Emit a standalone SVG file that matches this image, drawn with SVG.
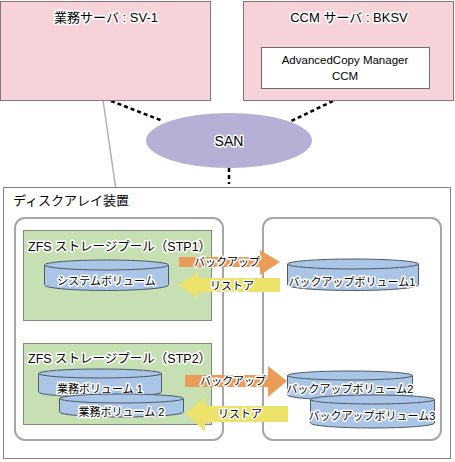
<svg xmlns="http://www.w3.org/2000/svg" width="455" height="462" viewBox="0 0 455 462">
<style>
.srv{fill:#f6d2d9;stroke:#8c7378;stroke-width:1}
.t{font-family:"Liberation Sans","Noto Sans CJK JP",sans-serif;fill:#000}
.h{paint-order:stroke;stroke:#fff;stroke-width:3;stroke-linejoin:round}
.pool{fill:#c6e0b4;stroke:#7f8c7a;stroke-width:1}
.rb{fill:#fff;stroke:#a6a6a6;stroke-width:2}
.cyl{fill:#abc5e6;stroke:#4d5a6c;stroke-width:1}
.dash{stroke:#000;stroke-width:2.5;stroke-dasharray:4,3;fill:none}
</style>
<g id="connectors">
<line x1="103" y1="100" x2="120" y2="218" stroke="#b0b0b0" stroke-width="1.5"/>
<line class="dash" x1="111" y1="101" x2="163" y2="121"/>
<line class="dash" x1="333" y1="101" x2="291" y2="121"/>
<line class="dash" x1="229" y1="168" x2="229" y2="184"/>
</g>
<g id="sv1">
<rect class="srv" x="0.5" y="1.5" width="210" height="99"/>
<text class="t h" x="106" y="22" font-size="13" text-anchor="middle">業務サーバ : SV-1</text>
</g>
<g id="bksv">
<rect class="srv" x="243.5" y="1.5" width="210" height="99"/>
<text class="t h" x="349" y="22" font-size="13" text-anchor="middle">CCM サーバ : BKSV</text>
<rect x="261.5" y="47.5" width="168" height="41" fill="#fff" stroke="#6e6e6e" stroke-width="1"/>
<text class="t" x="345" y="64" font-size="11.5" text-anchor="middle">AdvancedCopy Manager</text>
<text class="t" x="345" y="80" font-size="11.5" text-anchor="middle">CCM</text>
</g>
<g id="san">
<ellipse cx="229" cy="140.5" rx="83" ry="27.5" fill="#b6afd6"/>
<text class="t h" x="229" y="146" font-size="14" text-anchor="middle">SAN</text>
</g>
<g id="diskarray">
<rect x="3.5" y="187.5" width="447" height="271" fill="#fff" stroke="#808080" stroke-width="1"/>
<text class="t" x="13" y="205" font-size="13">ディスクアレイ装置</text>
</g>
<g id="leftbox">
<rect class="rb" x="15" y="218" width="208" height="222" rx="10"/>
</g>
<g id="rightbox">
<rect class="rb" x="263" y="218" width="178" height="222" rx="10"/>
</g>
<g id="stp1">
<rect class="pool" x="23.5" y="230.5" width="188" height="90"/>
<text class="t h" x="28" y="251" font-size="12.5">ZFS ストレージプール（STP1）</text>
</g>
<g id="sysvol">
<path class="cyl" d="M44.5,265 V285 A62,5.5 0 0 0 168.5,285 V265"/>
<ellipse class="cyl" cx="106.5" cy="265" rx="62" ry="5"/>
<text class="t h" x="106.5" y="285" font-size="11" text-anchor="middle">システムボリューム</text>
</g>
<g id="stp2">
<rect class="pool" x="23.5" y="343.5" width="188" height="81"/>
<text class="t h" x="28" y="363" font-size="12.5">ZFS ストレージプール（STP2）</text>
</g>
<g id="gvol1">
<path class="cyl" d="M38.5,373.5 V392 A61.5,5 0 0 0 161.5,392 V373.5"/>
<ellipse class="cyl" cx="100" cy="373.5" rx="61.5" ry="4.5"/>
<text class="t h" x="100" y="393" font-size="11" text-anchor="middle">業務ボリューム 1</text>
</g>
<g id="gvol2">
<path class="cyl" d="M59.5,398.5 V412 A62,5 0 0 0 183.5,412 V398.5"/>
<ellipse class="cyl" cx="121.5" cy="398.5" rx="62" ry="4.5"/>
<text class="t h" x="121.5" y="416" font-size="11" text-anchor="middle">業務ボリューム 2</text>
</g>
<g id="backup1">
<polygon points="179,257 260,257 260,250 280,262 260,275 260,267 179,267" fill="#eb9c58"/>
<text class="t h" x="227" y="266" font-size="11" text-anchor="middle">バックアップ</text>
</g>
<g id="restore1">
<polygon points="178,285 198,272 198,278 280,278 280,292 198,292 198,298" fill="#ede26a"/>
<text class="t h" x="232" y="290" font-size="11" text-anchor="middle">リストア</text>
</g>
<g id="backup2">
<polygon points="185,375 268,375 268,366 287,381 268,397 268,387 185,387" fill="#eb9c58"/>
<text class="t h" x="233" y="385" font-size="11" text-anchor="middle">バックアップ</text>
</g>
<g id="restore2">
<polygon points="186,413 205,397 205,406 288,406 288,422 205,422 205,432" fill="#ede26a"/>
<text class="t h" x="240" y="418" font-size="11" text-anchor="middle">リストア</text>
</g>
<g id="bvol1">
<path class="cyl" d="M287.5,264 V285 A65.5,5.5 0 0 0 418.5,285 V264"/>
<ellipse class="cyl" cx="353" cy="264" rx="65.5" ry="5"/>
<text class="t h" x="352" y="286" font-size="11" text-anchor="middle">バックアップボリューム1</text>
</g>
<g id="bvol2">
<path class="cyl" d="M287.5,375.5 V395 A62.5,5 0 0 0 412.5,395 V375.5"/>
<ellipse class="cyl" cx="350" cy="375.5" rx="62.5" ry="4.5"/>
<text class="t h" x="350" y="393" font-size="11" text-anchor="middle">バックアップボリューム2</text>
</g>
<g id="bvol3">
<path class="cyl" d="M310.5,399.5 V423 A62,5 0 0 0 434.5,423 V399.5"/>
<ellipse class="cyl" cx="372.5" cy="399.5" rx="62" ry="4.5"/>
<text class="t h" x="372" y="420" font-size="11" text-anchor="middle">バックアップボリューム3</text>
</g>
</svg>
